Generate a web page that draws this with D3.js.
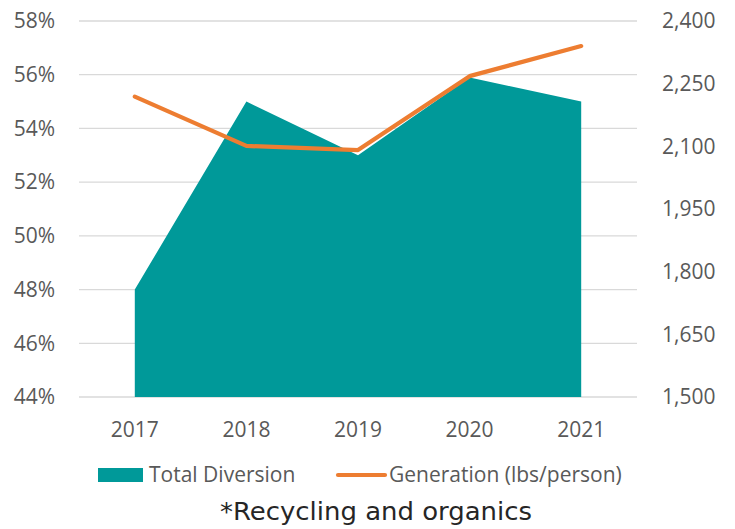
<!DOCTYPE html>
<html>
<head>
<meta charset="utf-8">
<script src="https://cdn.jsdelivr.net/npm/d3@7"></script>
<style>
  body { margin: 0; background: #fff; }
  text { font-family: "Open Sans", sans-serif; }
</style>
</head>
<body>
<svg id="chart"></svg>
<script>
var width = 735,
    height = 529,
    margin = {top: 21, right: 98, bottom: 132, left: 79};

// data
var years = ["2017", "2018", "2019", "2020", "2021"];
var diversion = [48, 55, 53, 55.9, 55];          // % (left axis)
var generation = [2219, 2101, 2091, 2268, 2340]; // lbs/person (right axis)
var leftTicks = [44, 46, 48, 50, 52, 54, 56, 58];
var rightTicks = [1500, 1650, 1800, 1950, 2100, 2250, 2400];

var svg = d3.select("#chart").attr("width", width).attr("height", height);

var x = d3.scalePoint()
  .domain(years)
  .range([margin.left, width - margin.right])
  .padding(0.5);

var yL = d3.scaleLinear().domain([44, 58]).range([height - margin.bottom, margin.top]);
var yR = d3.scaleLinear().domain([1500, 2400]).range([height - margin.bottom, margin.top]);

// gridlines
svg.append("g").selectAll("line")
  .data(leftTicks)
  .enter().append("line")
  .attr("x1", margin.left)
  .attr("x2", width - margin.right)
  .attr("y1", function(d) { return yL(d); })
  .attr("y2", function(d) { return yL(d); })
  .attr("stroke", "#d9d9d9")
  .attr("stroke-width", 1.3);

// area
var area = d3.area()
  .x(function(d, i) { return x(years[i]); })
  .y0(yL(44))
  .y1(function(d) { return yL(d); });

svg.append("path")
  .datum(diversion)
  .attr("d", area)
  .attr("fill", "#009999");

// line
var line = d3.line()
  .x(function(d, i) { return x(years[i]); })
  .y(function(d) { return yR(d); });

svg.append("path")
  .datum(generation)
  .attr("d", line)
  .attr("fill", "none")
  .attr("stroke", "#ed7d31")
  .attr("stroke-width", 4.2)
  .attr("stroke-linecap", "round")
  .attr("stroke-linejoin", "round");

// left axis labels
svg.append("g").selectAll("text")
  .data(leftTicks)
  .enter().append("text")
  .attr("x", 55)
  .attr("y", function(d) { return yL(d); })
  .attr("dy", "0.35em")
  .attr("text-anchor", "end")
  .attr("font-size", 21)
  .attr("fill", "#595959")
  .text(function(d) { return d + "%"; });

// right axis labels
svg.append("g").selectAll("text")
  .data(rightTicks)
  .enter().append("text")
  .attr("x", 662)
  .attr("y", function(d) { return yR(d); })
  .attr("dy", "0.35em")
  .attr("text-anchor", "start")
  .attr("font-size", 21)
  .attr("fill", "#595959")
  .text(function(d) { return d3.format(",")(d); });

// x labels
svg.append("g").selectAll("text")
  .data(years)
  .enter().append("text")
  .attr("x", function(d) { return x(d); })
  .attr("y", 437)
  .attr("text-anchor", "middle")
  .attr("font-size", 21)
  .attr("fill", "#595959")
  .text(function(d) { return d; });

// legend
var legend = svg.append("g");
legend.append("rect")
  .attr("x", 98).attr("y", 468)
  .attr("width", 45).attr("height", 14)
  .attr("fill", "#009999");
legend.append("text")
  .attr("x", 149).attr("y", 482)
  .attr("font-size", 21)
  .attr("fill", "#595959")
  .text("Total Diversion");
legend.append("line")
  .attr("x1", 338).attr("x2", 385)
  .attr("y1", 475).attr("y2", 475)
  .attr("stroke", "#ed7d31")
  .attr("stroke-width", 4.2)
  .attr("stroke-linecap", "round");
legend.append("text")
  .attr("x", 389).attr("y", 482)
  .attr("font-size", 21)
  .attr("fill", "#595959")
  .text("Generation (lbs/person)");

// caption
svg.append("text")
  .attr("x", 376).attr("y", 520)
  .attr("text-anchor", "middle")
  .attr("font-size", 24)
  .attr("textLength", 312)
  .attr("lengthAdjust", "spacingAndGlyphs")
  .attr("fill", "#262626")
  .style("font-family", "'DejaVu Sans', sans-serif")
  .text("*Recycling and organics");
</script>
</body>
</html>
